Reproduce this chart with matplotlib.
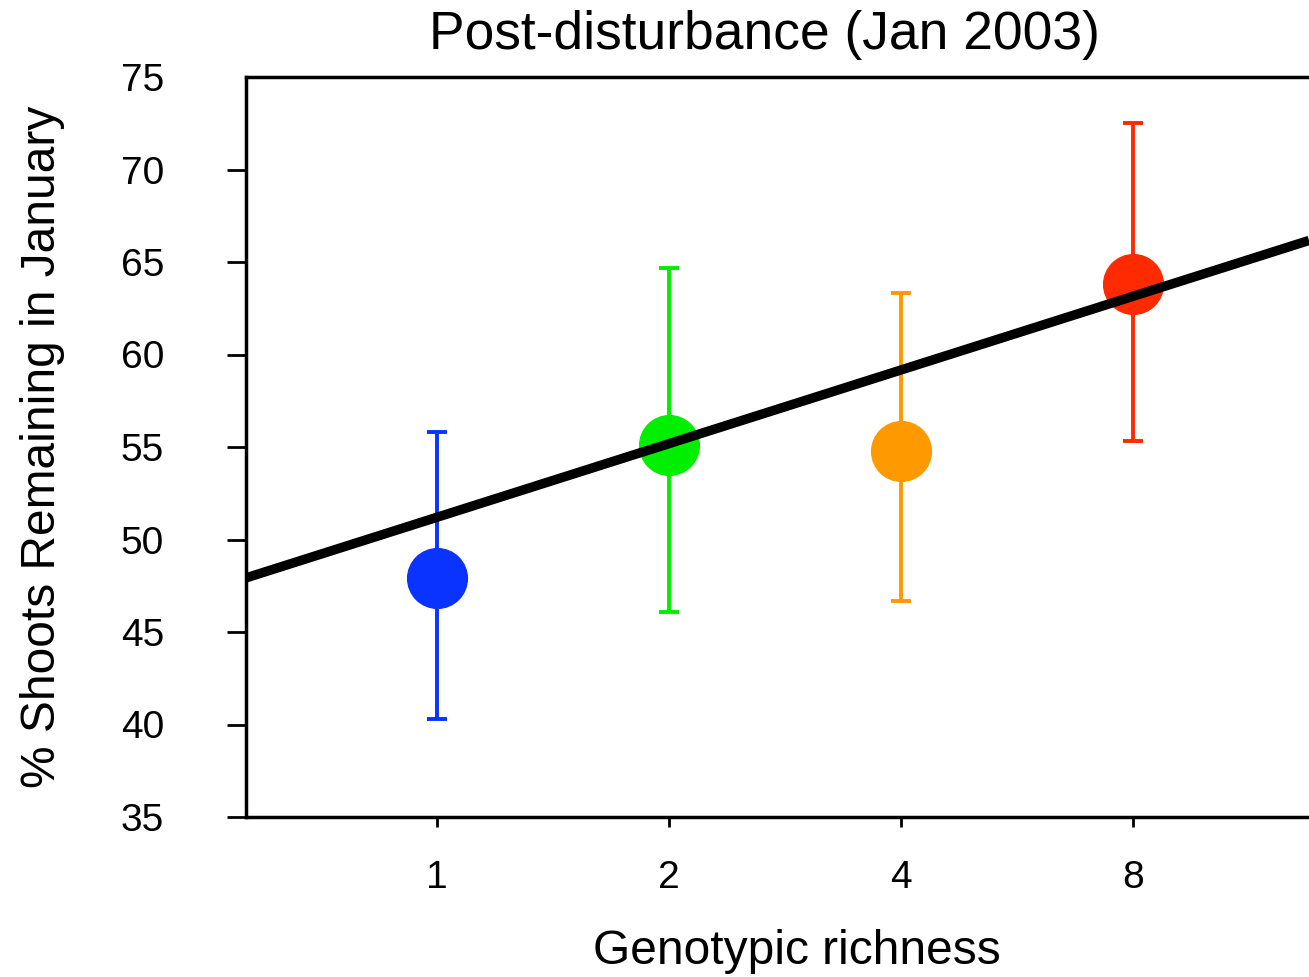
import matplotlib
matplotlib.use("Agg")
import matplotlib.pyplot as plt

plt.rcParams['font.family'] = ['Liberation Sans', 'DejaVu Sans']

# Genotypic richness treatments and mean % shoots remaining (+/- SE)
richness_labels = ['1', '2', '4', '8']
means = [47.9, 55.1, 54.8, 63.8]
upper = [55.8, 64.7, 63.3, 72.5]
lower = [40.3, 46.1, 46.7, 55.3]
colors = ['#0a33ff', '#00ee00', '#ff9900', '#ff2a00']

# Regression line (per doubling of richness)
fit_intercept = 51.2
fit_slope = 3.98

W, H = 1309, 977
fig = plt.figure(figsize=(W / 100, H / 100), dpi=100)
ax = fig.add_axes([246 / W, (H - 817) / H, (W - 246) / W, (817 - 77) / H])

xpos = list(range(len(means)))
xmin, xmax = -0.823, 3.76

ax.plot([xmin, xmax], [fit_intercept + fit_slope * xmin, fit_intercept + fit_slope * xmax],
        color='black', lw=6.8, solid_capstyle='butt', zorder=3)

for x, m, u, l, c in zip(xpos, means, upper, lower, colors):
    ax.errorbar([x], [m], yerr=[[m - l], [u - m]], fmt='none', ecolor=c,
                elinewidth=2.8, capsize=7, capthick=2.8, zorder=2)
    ax.plot([x], [m], 'o', color=c, markersize=43, zorder=2)

ax.set_xlim(xmin, xmax)
ax.set_ylim(35, 75)
ax.set_xticks(xpos)
ax.set_xticklabels(richness_labels)
ax.set_yticks(range(35, 80, 5))
ax.yaxis.get_major_ticks()[-1].tick1line.set_visible(False)

for s in ['left', 'top', 'bottom']:
    ax.spines[s].set_linewidth(2.5)
ax.spines['right'].set_visible(False)
ax.tick_params(axis='both', length=14, width=2, labelsize=28)
ax.tick_params(axis='y', pad=45)
ax.tick_params(axis='x', length=7, pad=24)

ax.set_title('Post-disturbance (Jan 2003)', fontsize=38.4, pad=20, x=0.488)
ax.set_xlabel('Genotypic richness', fontsize=34.5, labelpad=24, x=0.518)
ax.set_ylabel('% Shoots Remaining in January', fontsize=34.5, labelpad=40)

fig.savefig('out.png', dpi=100)
